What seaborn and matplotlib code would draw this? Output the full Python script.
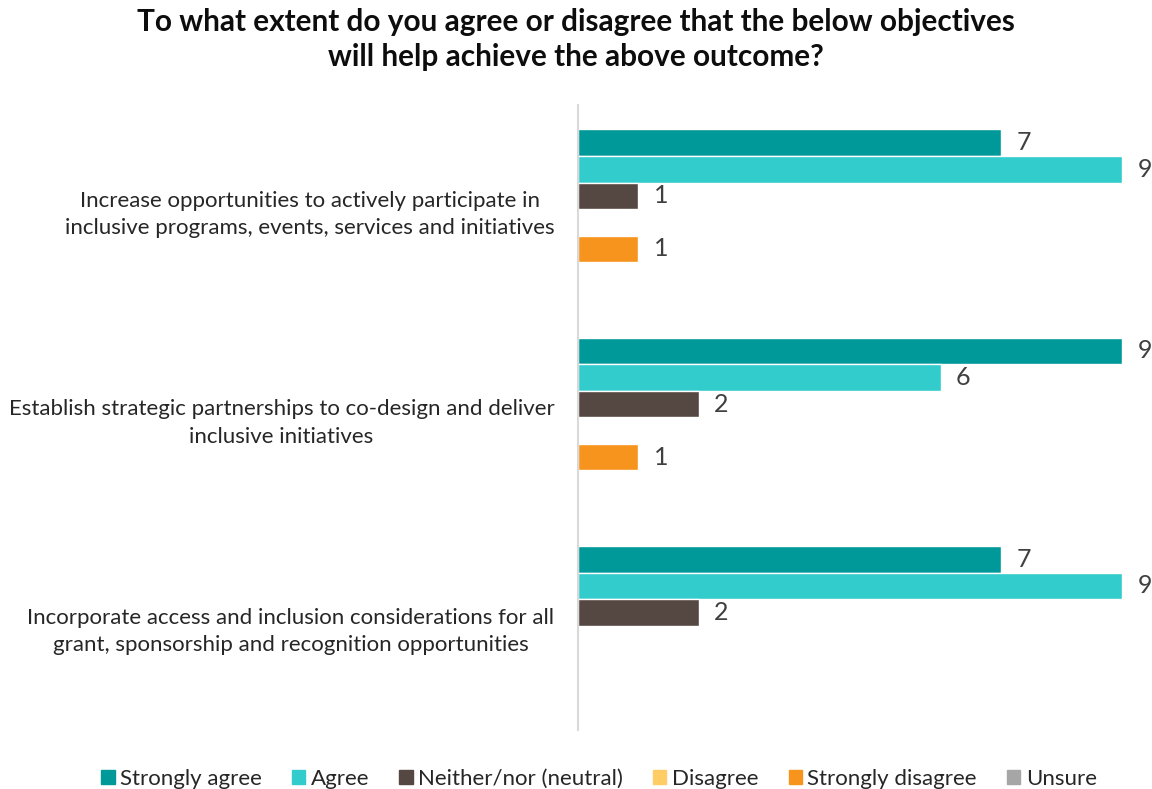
import pandas as pd
import numpy as np
import matplotlib.pyplot as plt
import seaborn as sns

# Data
objectives = [
    "Increase opportunities to actively participate in\ninclusive programs, events, services and initiatives",
    "Establish strategic partnerships to co-design and deliver\ninclusive initiatives",
    "Incorporate access and inclusion considerations for all\ngrant, sponsorship and recognition opportunities",
]
responses = ["Strongly agree", "Agree", "Neither/nor (neutral)", "Disagree", "Strongly disagree", "Unsure"]
strongly_agree = [7, 9, 7]
agree = [9, 6, 9]
neutral = [1, 2, 2]
disagree = [0, 0, 0]
strongly_disagree = [1, 1, 0]
unsure = [0, 0, 0]
colors = ["#009999", "#33CCCC", "#554741", "#FFCC66", "#F7941D", "#A6A6A6"]

rows = []
for series, name in zip([strongly_agree, agree, neutral, disagree, strongly_disagree, unsure], responses):
    for obj, v in zip(objectives, series):
        rows.append({"objective": obj, "response": name, "count": v})
df = pd.DataFrame(rows)

sns.set_style("white")
plt.rcParams["font.family"] = ["Lato", "DejaVu Sans"]

fig = plt.figure(figsize=(11.52, 7.89), dpi=100)
ax = fig.add_axes([0.5017, 0.075, 0.4723, 0.792])

sns.barplot(data=df, y="objective", x="count", hue="response", order=objectives,
            hue_order=responses, palette=colors, orient="h", width=0.765,
            ax=ax, legend=False, saturation=1)

# value labels for non-zero bars
for container in ax.containers:
    labels = [f"{int(v)}" if v > 0 else "" for v in container.datavalues]
    ax.bar_label(container, labels=labels, padding=11, fontsize=18, color="#404040", clip_on=False)

ax.set_xlim(0, 9)
ax.set_xticks([])
ax.set_xlabel("")
ax.set_ylabel("")
for s in ["top", "right", "bottom"]:
    ax.spines[s].set_visible(False)
ax.spines["left"].set_color("#D9D9D9")
ax.spines["left"].set_linewidth(1.5)
ax.tick_params(axis="y", length=0, pad=17, labelsize=16, labelcolor="#262626")
for t in ax.get_yticklabels():
    t.set_multialignment("center")
    t.set_linespacing(1.45)

fig.suptitle("To what extent do you agree or disagree that the below objectives\nwill help achieve the above outcome?",
             x=0.5, y=0.99, fontsize=21.4, fontweight="bold", color="#0D0D0D", linespacing=1.3)

handles = [plt.Rectangle((0, 0), 1, 1, color=c) for c in colors]
fig.legend(handles, responses, loc="lower center", bbox_to_anchor=(0.52, -0.025), ncol=6,
           frameon=False, fontsize=16, handlelength=0.6, handleheight=0.6,
           handletextpad=0.25, columnspacing=1.35, labelcolor="#262626")

fig.savefig("out.png", dpi=100)
